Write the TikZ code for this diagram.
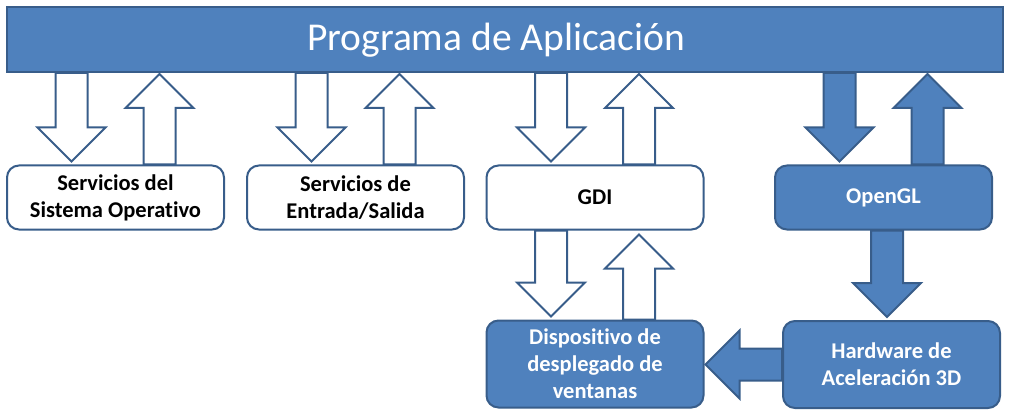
\documentclass[tikz,border=0pt]{standalone}
\usepackage{fontspec}
\setmainfont{Carlito}[Ligatures=NoCommon]
\usetikzlibrary{calc}

\definecolor{layerblue}{HTML}{4F81BD}
\definecolor{layerline}{HTML}{385D8A}

\tikzset{
  layer/.style={draw=layerline, line width=2pt, rounded corners=12pt, minimum width=217pt, minimum height=64pt,
    inner sep=0pt, align=center, font=\fontsize{22.5}{27}\selectfont\bfseries},
  whitelayer/.style={layer, fill=white, text=black},
  bluelayer/.style={layer, fill=layerblue, text=white},
  hollow/.style={draw=layerline, line width=2pt, fill=white},
  solidblue/.style={draw=layerline, line width=2pt, fill=layerblue}
}

% block arrow: [style]{start}{tip}
\newcommand{\blockarrow}[3][hollow]{%
  \coordinate (ba-s) at (#2);
  \coordinate (ba-t) at (#3);
  \coordinate (ba-h) at ($(ba-t)!34pt!(ba-s)$);
  \draw[#1] ($(ba-s)!16pt!90:(ba-t)$) -- ($(ba-h)!16pt!90:(ba-t)$) -- ($(ba-h)!34pt!90:(ba-t)$) -- (ba-t)
    -- ($(ba-h)!34pt!-90:(ba-t)$) -- ($(ba-h)!16pt!-90:(ba-t)$) -- ($(ba-s)!16pt!-90:(ba-t)$) -- cycle;
}

\begin{document}
\begin{tikzpicture}[x=1pt, y=-1pt]
\useasboundingbox (0,0) rectangle (1010,417);

% application bar
\node[draw=layerline, line width=2pt, fill=layerblue, minimum width=996pt, minimum height=65pt] (app) at (505,39.5) {};
\node[text=white, font=\fontsize{39.5}{47}\selectfont] (apptitle) at (496,40) {Programa de Aplicación};

% layers
\node[whitelayer] (sisop) at (115.5,197.5) {Servicios del\\Sistema Operativo};
\node[whitelayer] (es) at (355.5,197.5) {Servicios de\\Entrada/Salida};
\node[whitelayer] (gdi) at (595,197.5) {GDI};
\node[bluelayer] (ogl) at (883.5,197.5) {OpenGL};
\node[bluelayer, minimum height=87pt] (disp) at (595,364) {Dispositivo de\\desplegado de\\ventanas};
\node[bluelayer, minimum height=87pt] (hw) at (891.5,364.5) {Hardware de\\Aceleración 3D};

% arrows between bar and layers
\blockarrow{$(sisop.north |- app.south)+(-44,0)$}{$(sisop.north)+(-44,-3)$}
\blockarrow{$(sisop.north)+(44,0)$}{$(sisop.north |- app.south)+(44,1)$}
\blockarrow{$(es.north |- app.south)+(-44,0)$}{$(es.north)+(-44,-3)$}
\blockarrow{$(es.north)+(44,0)$}{$(es.north |- app.south)+(44,1)$}
\blockarrow{$(gdi.north |- app.south)+(-44,0)$}{$(gdi.north)+(-44,-3)$}
\blockarrow{$(gdi.north)+(44,0)$}{$(gdi.north |- app.south)+(44,1)$}
\blockarrow[solidblue]{$(ogl.north |- app.south)+(-44,0)$}{$(ogl.north)+(-44,-3)$}
\blockarrow[solidblue]{$(ogl.north)+(44,0)$}{$(ogl.north |- app.south)+(44,1)$}

% lower arrows
\blockarrow{$(gdi.south)+(-44,0)$}{$(disp.north)+(-44,-3)$}
\blockarrow{$(disp.north)+(44,0)$}{$(gdi.south)+(44,4)$}
\blockarrow[solidblue]{$(ogl.south)+(3.5,0)$}{$(ogl.south |- hw.north)+(3.5,-3)$}
\blockarrow[solidblue]{hw.west}{$(disp.east |- hw.west)+(1,0)$}

\end{tikzpicture}
\end{document}
